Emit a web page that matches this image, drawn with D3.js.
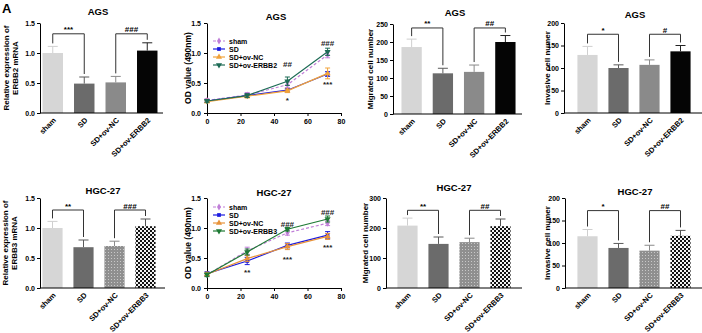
<!DOCTYPE html>
<html><head><meta charset="utf-8">
<script src="https://cdn.jsdelivr.net/npm/d3@7"></script>
<style>
body{margin:0;background:#fff;overflow:hidden}
svg{display:block}
text{font-family:"Liberation Sans",Arial,sans-serif}
</style></head><body>
<script>
// ---------- DATA ----------
const catsA = ["sham","SD","SD+ov-NC","SD+ov-ERBB2"];
const catsB = ["sham","SD","SD+ov-NC","SD+ov-ERBB3"];

const agsMrnaMean = [1.00, 0.49, 0.51, 1.04];
const agsMrnaErr  = [0.11, 0.11, 0.10, 0.13];
const agsMigMean  = [186, 113, 117, 200];
const agsMigErr   = [22, 14, 19, 18];
const agsInvMean  = [129, 100, 107, 137];
const agsInvErr   = [19, 7, 11, 13];

const hgcMrnaMean = [1.00, 0.68, 0.70, 1.03];
const hgcMrnaErr  = [0.11, 0.12, 0.08, 0.12];
const hgcMigMean  = [208, 147, 153, 206];
const hgcMigErr   = [25, 23, 13, 24];
const hgcInvMean  = [115, 89, 83, 116];
const hgcInvErr   = [15, 10, 12, 12];

const hours = [0, 24, 48, 72];
const agsOdSham  = [0.21, 0.30, 0.47, 0.97];
const agsOdSD    = [0.20, 0.29, 0.38, 0.65];
const agsOdNC    = [0.19, 0.28, 0.37, 0.66];
const agsOdOv    = [0.20, 0.29, 0.53, 1.02];
const agsOdShamErr = [0.03, 0.04, 0.05, 0.05];
const agsOdSDErr   = [0.02, 0.03, 0.03, 0.04];
const agsOdNCErr   = [0.02, 0.03, 0.03, 0.09];
const agsOdOvErr   = [0.02, 0.03, 0.07, 0.06];

const hgcOdSham  = [0.22, 0.62, 0.92, 1.08];
const hgcOdSD    = [0.24, 0.45, 0.71, 0.88];
const hgcOdNC    = [0.23, 0.49, 0.69, 0.86];
const hgcOdOv    = [0.22, 0.60, 0.98, 1.15];
const hgcOdShamErr = [0.03, 0.06, 0.04, 0.04];
const hgcOdSDErr   = [0.03, 0.06, 0.04, 0.06];
const hgcOdNCErr   = [0.03, 0.05, 0.05, 0.05];
const hgcOdOvErr   = [0.03, 0.05, 0.03, 0.05];

// significance marks on the growth curves: [label, hour, value]
const agsOdMarks = [["##",48,0.82],["*",48,0.25],["###",72,1.17],["***",72,0.52]];
const hgcOdMarks = [["**",24,0.30],["***",48,0.52],["###",48,1.07],["***",72,0.72],["###",72,1.27]];

const tickMrna = [0, 0.5, 1.0, 1.5];
const tickOdY  = [0, 0.5, 1.0, 1.5];
const tickOdX  = [0, 20, 40, 60, 80];
const tickAgsMig = [0, 50, 100, 150, 200, 250];
const tickAgsInv = [0, 50, 100, 150, 200];
const tickHgcMig = [0, 100, 200, 300];
const tickHgcInv = [0, 50, 100, 150, 200];

// ---------- DRAW ----------
const W = 702, H = 333;
const svg = d3.select("body").append("svg").attr("width", W).attr("height", H);
const defs = svg.append("defs");
const dots = defs.append("pattern").attr("id","dots").attr("patternUnits","userSpaceOnUse").attr("width",3).attr("height",3);
dots.append("rect").attr("width",3).attr("height",3).attr("fill","#8f8f8f");
dots.append("rect").attr("x",0).attr("y",0).attr("width",1).attr("height",1).attr("fill","#c8c8c8");
const chk = defs.append("pattern").attr("id","chk").attr("patternUnits","userSpaceOnUse").attr("width",4).attr("height",4);
chk.append("rect").attr("width",4).attr("height",4).attr("fill","#f2f2f2");
chk.append("rect").attr("x",0).attr("y",0).attr("width",2).attr("height",2).attr("fill","#111");
chk.append("rect").attr("x",2).attr("y",2).attr("width",2).attr("height",2).attr("fill","#111");

svg.append("text").attr("x",2).attr("y",13).attr("font-size",13).attr("font-weight","bold").text("A");

const FONT_TICK = 7, FONT_LAB = 7.5;

function yLabel(g, lines, xs, yc, size) {
  lines.forEach((t, i) => {
    g.append("text").attr("transform", `translate(${xs[i]},${yc}) rotate(-90)`)
      .attr("text-anchor","middle").attr("dominant-baseline","central")
      .attr("font-size", size).attr("font-weight","bold").text(t);
  });
}

function barPanel(c) {
  const g = svg.append("g");
  const y = d3.scaleLinear().domain([0, c.max]).range([c.yBot, c.yTop]);
  const x = d3.scaleBand().domain(c.cats).range([c.bandL, c.bandR]).paddingInner(0.35).paddingOuter(0.175);
  const cx = d => x(d) + x.bandwidth() / 2;
  g.selectAll("rect.bar").data(c.cats).join("rect").attr("class","bar")
    .attr("x", d => x(d)).attr("width", x.bandwidth())
    .attr("y", (d, i) => y(c.mean[i])).attr("height", (d, i) => c.yBot - y(c.mean[i]))
    .attr("fill", (d, i) => c.fills[i]);
  c.cats.forEach((d, i) => {
    const top = y(c.mean[i] + c.err[i]);
    g.append("line").attr("x1", cx(d)).attr("x2", cx(d)).attr("y1", y(c.mean[i])).attr("y2", top)
      .attr("stroke", c.errCol[i]).attr("stroke-width", 1);
    g.append("line").attr("x1", cx(d) - 5).attr("x2", cx(d) + 5).attr("y1", top).attr("y2", top)
      .attr("stroke", c.errCol[i]).attr("stroke-width", 1);
  });
  const ay = g.append("g").attr("transform", `translate(${c.x0},0)`)
    .call(d3.axisLeft(y).tickValues(c.ticks).tickFormat(c.fmt).tickSize(3).tickSizeOuter(0));
  ay.selectAll("text").attr("font-size", FONT_TICK).attr("font-weight","bold").attr("font-family",'"Liberation Sans",Arial,sans-serif').attr("dx", 1);
  g.append("line").attr("x1", c.x0).attr("x2", c.xEnd).attr("y1", c.yBot).attr("y2", c.yBot).attr("stroke","#000");
  c.cats.forEach(d => {
    g.append("text").attr("transform", `translate(${cx(d) + 2},${c.yBot + 6}) rotate(-45)`)
      .attr("text-anchor","end").attr("dominant-baseline","central")
      .attr("font-size", FONT_LAB).attr("font-weight","bold").text(d);
  });
  c.brackets.forEach(b => {
    const ia = c.cats.indexOf(b.a), ib = c.cats.indexOf(b.b);
    const yb = y(b.v);
    const la = y(c.mean[ia] + c.err[ia]) - 3, lb = y(c.mean[ib] + c.err[ib]) - 3;
    g.append("path").attr("d", `M${cx(b.a)},${la}V${yb}H${cx(b.b)}V${lb}`)
      .attr("fill","none").attr("stroke","#333").attr("stroke-width",1);
    g.append("text").attr("x", (cx(b.a) + cx(b.b)) / 2).attr("y", yb - 1.5)
      .attr("text-anchor","middle").attr("font-size", 8).attr("font-weight","bold").text(b.text);
  });
  g.append("text").attr("x", c.titleX).attr("y", c.titleY).attr("text-anchor","middle")
    .attr("font-size", 9.5).attr("font-weight","bold").text(c.title);
  yLabel(g, c.ylabel, c.ylabelX, (c.yTop + c.yBot) / 2, 8);
}

function linePanel(c) {
  const g = svg.append("g");
  const x = d3.scaleLinear().domain([0, 80]).range([c.x0, c.x1]);
  const y = d3.scaleLinear().domain([0, 1.5]).range([c.yBot, c.yTop]);
  const ax = g.append("g").attr("transform", `translate(0,${c.yBot})`)
    .call(d3.axisBottom(x).tickValues(tickOdX).tickSize(3).tickSizeOuter(0));
  const ay = g.append("g").attr("transform", `translate(${c.x0},0)`)
    .call(d3.axisLeft(y).tickValues(tickOdY).tickFormat(d3.format(".1f")).tickSize(3).tickSizeOuter(0));
  [ax, ay].forEach(a => a.selectAll("text").attr("font-size", FONT_TICK).attr("font-weight","bold").attr("font-family",'"Liberation Sans",Arial,sans-serif'));
  const line = d3.line().x((d, i) => x(hours[i])).y(d => y(d));
  c.series.forEach(s => {
    g.append("path").attr("d", line(s.vals)).attr("fill","none").attr("stroke", s.color)
      .attr("stroke-width", 1.2).attr("stroke-dasharray", s.dash || null);
    s.vals.forEach((v, i) => {
      const px = x(hours[i]);
      g.append("line").attr("x1", px).attr("x2", px).attr("y1", y(v - s.errs[i])).attr("y2", y(v + s.errs[i])).attr("stroke", s.color);
      [v - s.errs[i], v + s.errs[i]].forEach(e => g.append("line").attr("x1", px - 2.5).attr("x2", px + 2.5).attr("y1", y(e)).attr("y2", y(e)).attr("stroke", s.color));
      g.append("path").attr("d", d3.symbol().type(s.sym).size(s.size)())
        .attr("transform", `translate(${px},${y(v)}) rotate(${s.rot || 0})`).attr("fill", s.color);
    });
  });
  c.marks.forEach(m => {
    const isStar = m[0][0] === "*";
    g.append("text").attr("x", x(m[1])).attr("y", y(m[2]) + (isStar ? 4.8 : 3))
      .attr("text-anchor","middle").attr("font-size", 8).attr("font-weight","bold").attr("fill","#222").text(m[0]);
  });
  c.series.forEach((s, i) => {
    const ly = c.legY + i * 8;
    g.append("line").attr("x1", c.legX).attr("x2", c.legX + 12).attr("y1", ly).attr("y2", ly)
      .attr("stroke", s.color).attr("stroke-width", 1.2).attr("stroke-dasharray", s.dash || null);
    g.append("path").attr("d", d3.symbol().type(s.sym).size(s.size)())
      .attr("transform", `translate(${c.legX + 6},${ly}) rotate(${s.rot || 0})`).attr("fill", s.color);
    g.append("text").attr("x", c.legX + 16).attr("y", ly).attr("dominant-baseline","central")
      .attr("font-size", 7).attr("font-weight","bold").text(s.name);
  });
  g.append("text").attr("x", c.titleX).attr("y", c.titleY).attr("text-anchor","middle")
    .attr("font-size", 9.5).attr("font-weight","bold").text(c.title);
  yLabel(g, ["OD value (490nm)"], [c.ylabelX], (c.yTop + c.yBot) / 2, 8.5);
}

const fillsA = ["#d6d6d6", "#6b6b6b", "#8a8a8a", "#050505"];
const errA   = ["#cfcfcf", "#5a5a5a", "#8a8a8a", "#222"];
const fillsB = ["#d6d6d6", "#6b6b6b", "url(#dots)", "url(#chk)"];
const errB   = ["#cfcfcf", "#5a5a5a", "#8a8a8a", "#555"];
const f1 = d3.format(".1f"), f0 = d3.format("d");

barPanel({cats: catsA, mean: agsMrnaMean, err: agsMrnaErr, fills: fillsA, errCol: errA, max: 1.5, ticks: tickMrna, fmt: f1,
  x0: 40, xEnd: 163, yTop: 23, yBot: 113, bandL: 37, bandR: 163,
  brackets: [{a:"sham", b:"SD", v:1.32, text:"***"}, {a:"SD+ov-NC", b:"SD+ov-ERBB2", v:1.32, text:"###"}],
  title: "AGS", titleX: 98, titleY: 15, ylabel: ["Relative expression of","ERBB2 mRNA"], ylabelX: [6, 15]});

linePanel({x0: 207, x1: 341, yTop: 23, yBot: 113, title: "AGS", titleX: 276, titleY: 20, ylabelX: 188,
  legX: 213, legY: 41, marks: agsOdMarks,
  series: [
    {name:"sham", vals: agsOdSham, errs: agsOdShamErr, color:"#c07fd8", dash:"3,2", sym: d3.symbolDiamond, size: 14},
    {name:"SD", vals: agsOdSD, errs: agsOdSDErr, color:"#1c1ce0", sym: d3.symbolSquare, size: 14},
    {name:"SD+ov-NC", vals: agsOdNC, errs: agsOdNCErr, color:"#f2a33a", sym: d3.symbolTriangle, size: 16},
    {name:"SD+ov-ERBB2", vals: agsOdOv, errs: agsOdOvErr, color:"#1d6b55", sym: d3.symbolTriangle, size: 16, rot: 180}
  ]});

barPanel({cats: catsA, mean: agsMigMean, err: agsMigErr, fills: fillsA, errCol: errA, max: 250, ticks: tickAgsMig, fmt: f0,
  x0: 393, xEnd: 522, yTop: 24, yBot: 114, bandL: 396, bandR: 521,
  brackets: [{a:"sham", b:"SD", v:239, text:"**"}, {a:"SD+ov-NC", b:"SD+ov-ERBB2", v:239, text:"##"}],
  title: "AGS", titleX: 455, titleY: 16, ylabel: ["Migrated cell number"], ylabelX: [370]});

barPanel({cats: catsA, mean: agsInvMean, err: agsInvErr, fills: fillsA, errCol: errA, max: 200, ticks: tickAgsInv, fmt: f0,
  x0: 564, xEnd: 702, yTop: 23, yBot: 113, bandL: 572, bandR: 696,
  brackets: [{a:"sham", b:"SD", v:175, text:"*"}, {a:"SD+ov-NC", b:"SD+ov-ERBB2", v:175, text:"#"}],
  title: "AGS", titleX: 635, titleY: 18, ylabel: ["Invasive cell numer"], ylabelX: [547]});

barPanel({cats: catsB, mean: hgcMrnaMean, err: hgcMrnaErr, fills: fillsB, errCol: errB, max: 1.5, ticks: tickMrna, fmt: f1,
  x0: 40, xEnd: 165, yTop: 198, yBot: 288, bandL: 37, bandR: 161,
  brackets: [{a:"sham", b:"SD", v:1.30, text:"**"}, {a:"SD+ov-NC", b:"SD+ov-ERBB3", v:1.30, text:"###"}],
  title: "HGC-27", titleX: 103, titleY: 194, ylabel: ["Relative expression of","ERBB3 mRNA"], ylabelX: [5, 14]});

linePanel({x0: 207, x1: 341, yTop: 198, yBot: 288, title: "HGC-27", titleX: 274, titleY: 196, ylabelX: 188,
  legX: 213, legY: 207, marks: hgcOdMarks,
  series: [
    {name:"sham", vals: hgcOdSham, errs: hgcOdShamErr, color:"#c07fd8", dash:"3,2", sym: d3.symbolDiamond, size: 14},
    {name:"SD", vals: hgcOdSD, errs: hgcOdSDErr, color:"#1c1ce0", sym: d3.symbolSquare, size: 14},
    {name:"SD+ov-NC", vals: hgcOdNC, errs: hgcOdNCErr, color:"#e8933a", sym: d3.symbolTriangle, size: 16},
    {name:"SD+ov-ERBB3", vals: hgcOdOv, errs: hgcOdOvErr, color:"#1f7a35", sym: d3.symbolTriangle, size: 16, rot: 180}
  ]});

barPanel({cats: catsB, mean: hgcMigMean, err: hgcMigErr, fills: fillsB, errCol: errB, max: 300, ticks: tickHgcMig, fmt: f0,
  x0: 386, xEnd: 522, yTop: 198, yBot: 288, bandL: 392, bandR: 516,
  brackets: [{a:"sham", b:"SD", v:259, text:"**"}, {a:"SD+ov-NC", b:"SD+ov-ERBB3", v:259, text:"##"}],
  title: "HGC-27", titleX: 454, titleY: 191, ylabel: ["Migrated cell number"], ylabelX: [365]});

barPanel({cats: catsB, mean: hgcInvMean, err: hgcInvErr, fills: fillsB, errCol: errB, max: 200, ticks: tickHgcInv, fmt: f0,
  x0: 565, xEnd: 702, yTop: 198, yBot: 288, bandL: 572, bandR: 696,
  brackets: [{a:"sham", b:"SD", v:172, text:"*"}, {a:"SD+ov-NC", b:"SD+ov-ERBB3", v:172, text:"##"}],
  title: "HGC-27", titleX: 635, titleY: 195, ylabel: ["Invasive cell numer"], ylabelX: [547]});
</script>
</body></html>
